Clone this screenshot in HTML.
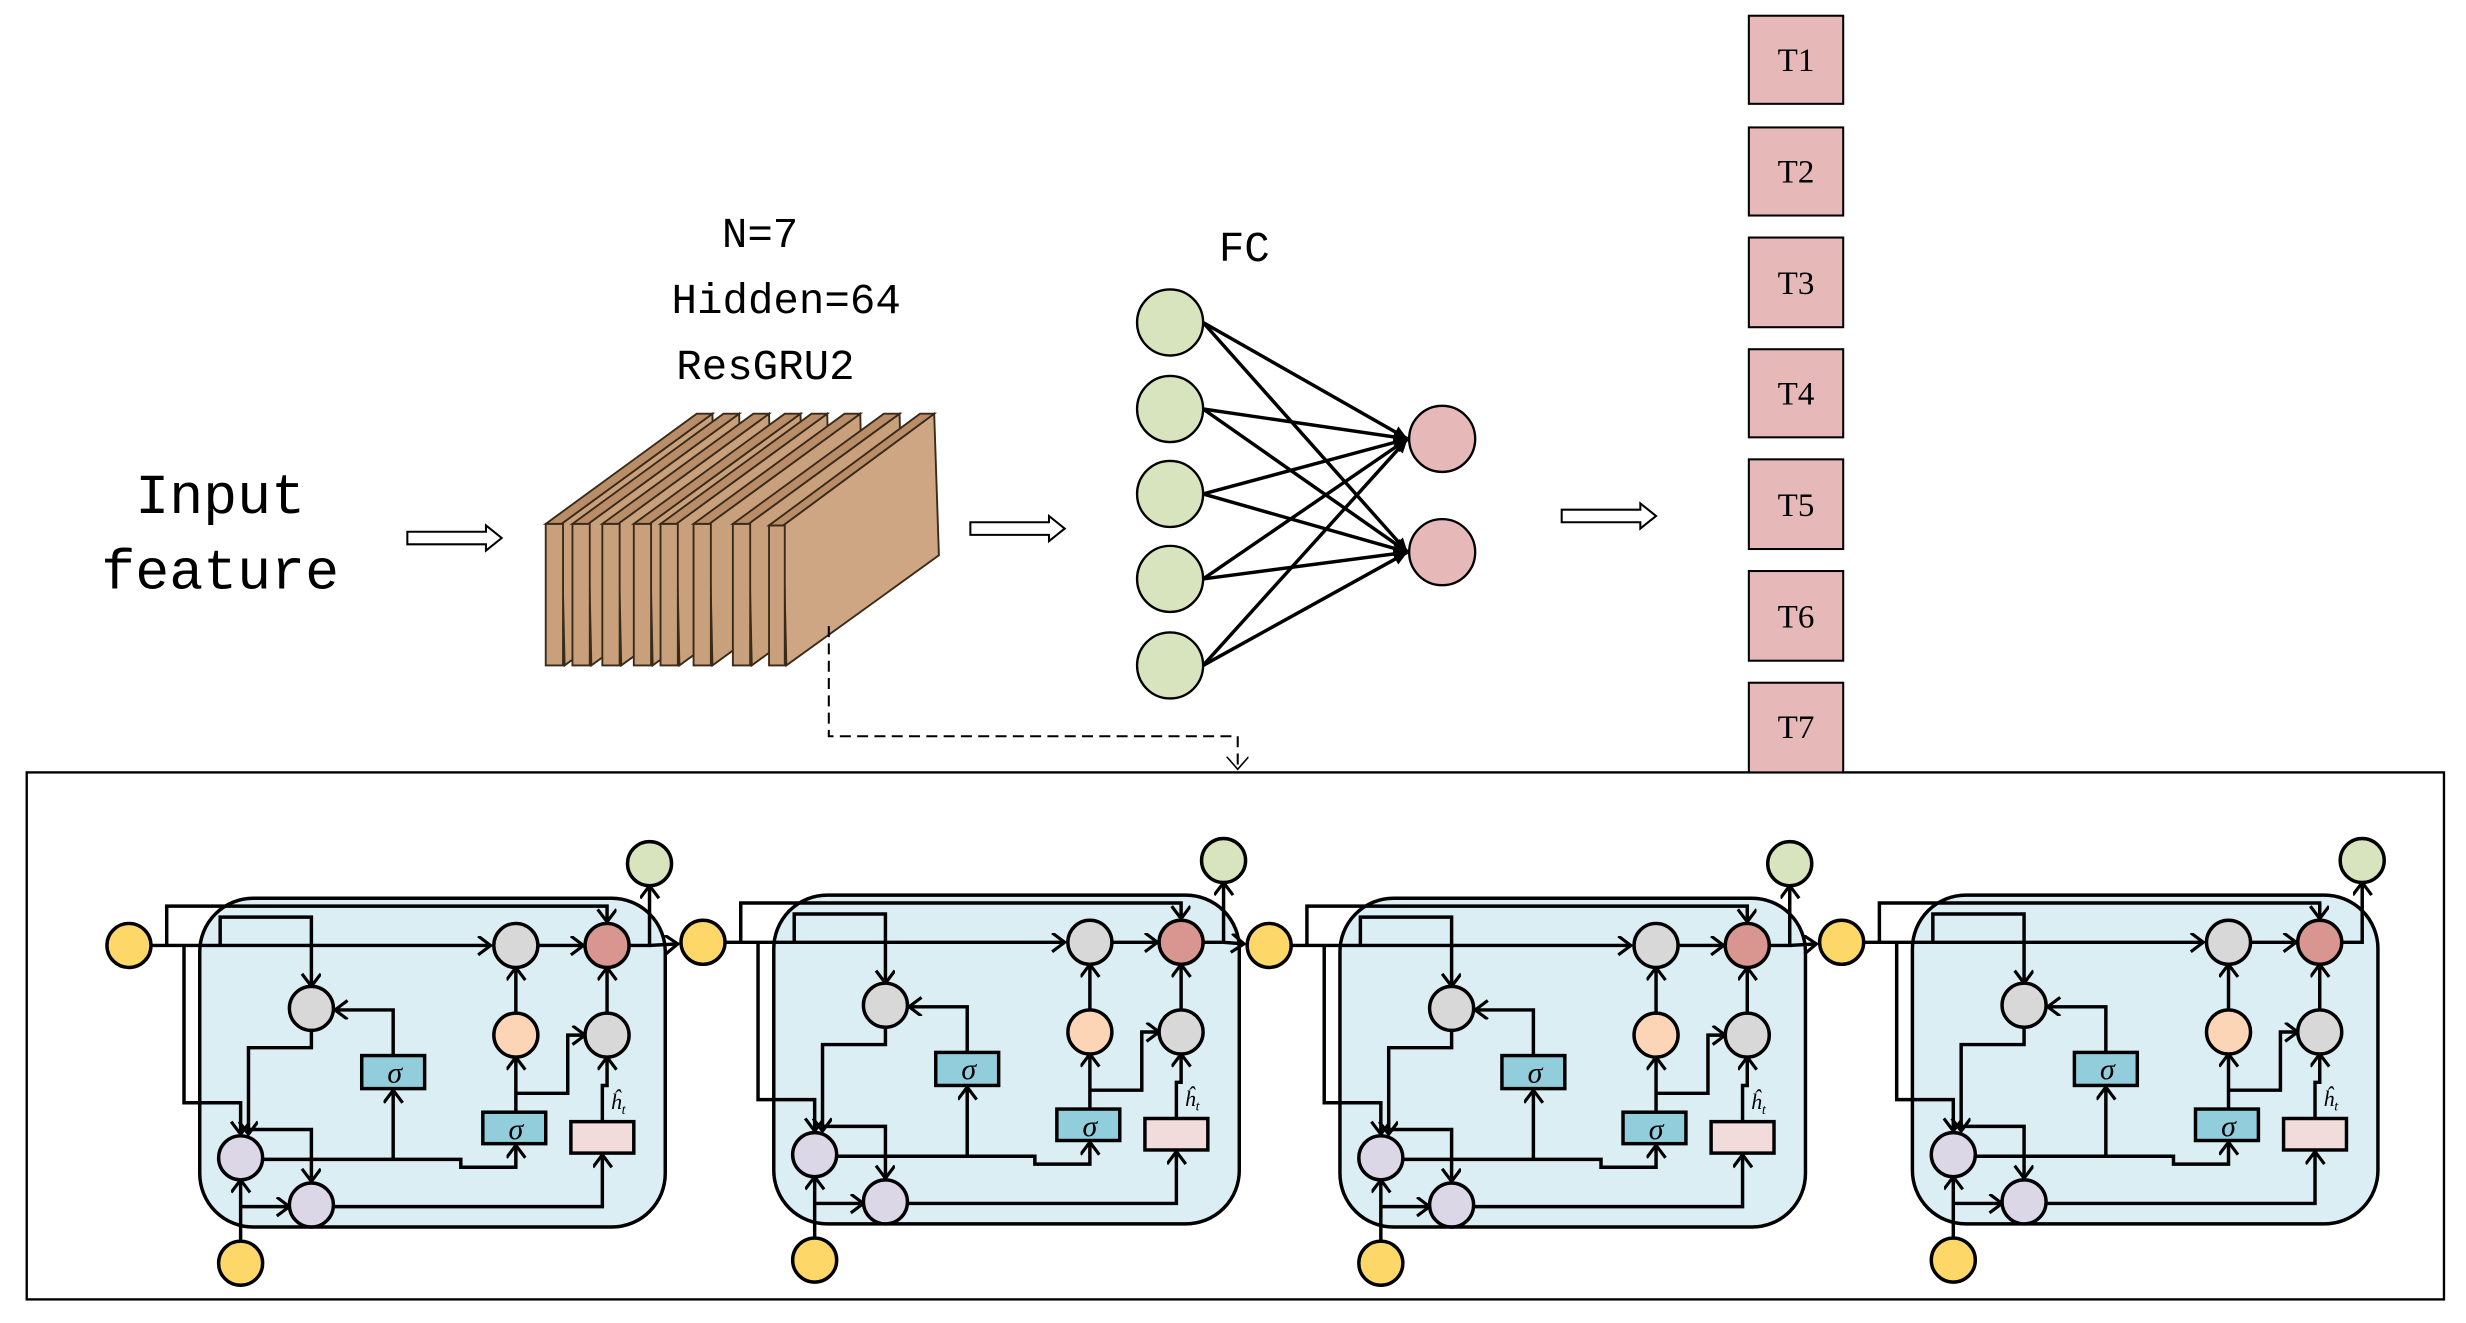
<!DOCTYPE html>
<html><head><meta charset="utf-8"><style>
html,body{margin:0;padding:0;background:#fff;}
svg{display:block;}
</style></head><body>
<svg width="2466" height="1323" viewBox="0 0 1568 841" preserveAspectRatio="none" xmlns="http://www.w3.org/2000/svg">
<defs>
<marker id="v" markerUnits="userSpaceOnUse" markerWidth="14" markerHeight="14" refX="9" refY="6" orient="auto">
<path d="M1,0 L9,6 L1,12" fill="none" stroke="#000" stroke-width="2"/>
</marker>
<marker id="f" markerUnits="userSpaceOnUse" markerWidth="12" markerHeight="12" refX="9" refY="4" orient="auto">
<path d="M0,0 L9,4 L0,8 z" fill="#000"/>
</marker>
<marker id="d" markerUnits="userSpaceOnUse" markerWidth="16" markerHeight="16" refX="8" refY="7" orient="auto">
<path d="M0,0 L8,7 L0,14" fill="none" stroke="#000" stroke-width="1"/>
</marker>
<g id="cell" stroke="#000" stroke-width="2.2" fill="none">
<rect x="127" y="571" width="296" height="209" rx="34" fill="#dbeef4"/>
<line x1="96" y1="601" x2="312" y2="601" marker-end="url(#v)"/>
<line x1="342" y1="601" x2="371" y2="601" marker-end="url(#v)"/>
<polyline points="106,601 106,576 386,576 386,586" marker-end="url(#v)"/>
<polyline points="140,601 140,583 198,583 198,627" marker-end="url(#v)"/>
<polyline points="117,601 117,701 153,701 153,721" marker-end="url(#v)"/>
<polyline points="198,656 198,666 158,666 158,721" marker-end="url(#v)"/>
<polyline points="158,718 198,718 198,751" marker-end="url(#v)"/>
<polyline points="250,671 250,642 213,642" marker-end="url(#v)"/>
<polyline points="167,737 293,737 293,742 328,742 328,728" marker-end="url(#v)"/>
<line x1="250" y1="737" x2="250" y2="693" marker-end="url(#v)"/>
<line x1="328" y1="707" x2="328" y2="672" marker-end="url(#v)"/>
<polyline points="328,695 361,695 361,658 372,658" marker-end="url(#v)"/>
<line x1="328" y1="644" x2="328" y2="615" marker-end="url(#v)"/>
<line x1="386" y1="644" x2="386" y2="615" marker-end="url(#v)"/>
<polyline points="383,713 383,690 386,690 386,672" marker-end="url(#v)"/>
<polyline points="212,767 383,767 383,734" marker-end="url(#v)"/>
<line x1="153" y1="789" x2="153" y2="750" marker-end="url(#v)"/>
<polyline points="153,767 160,767 184,767" marker-end="url(#v)"/>
<polyline points="400,601 413,601 413,563" marker-end="url(#v)"/>
<ellipse cx="82" cy="601" rx="14" ry="14" fill="#fdd868"/>
<ellipse cx="153" cy="803" rx="14" ry="14" fill="#fdd868"/>
<ellipse cx="413" cy="549" rx="14" ry="14" fill="#d7e4bd"/>
<ellipse cx="328" cy="601" rx="14" ry="14" fill="#d8d8d8"/>
<ellipse cx="386" cy="601" rx="14" ry="14" fill="#d9958f"/>
<ellipse cx="198" cy="641" rx="14" ry="14" fill="#d8d8d8"/>
<ellipse cx="328" cy="658" rx="14" ry="14" fill="#fbd5b5"/>
<ellipse cx="386" cy="658" rx="14" ry="14" fill="#d8d8d8"/>
<ellipse cx="153" cy="736" rx="14" ry="14" fill="#dcd7e6"/>
<ellipse cx="198" cy="766" rx="14" ry="14" fill="#dcd7e6"/>
<rect x="230" y="671" width="40" height="21" fill="#92cddc"/>
<rect x="307" y="707" width="40" height="20" fill="#92cddc"/>
<rect x="363" y="713" width="40" height="20" fill="#f2dcdb"/>
<text x="251" y="688" font-family="Liberation Serif, serif" font-style="italic" font-size="19" fill="#000" stroke="none" text-anchor="middle">σ</text>
<text x="328" y="724" font-family="Liberation Serif, serif" font-style="italic" font-size="19" fill="#000" stroke="none" text-anchor="middle">σ</text>
<text x="393" y="705" font-family="Liberation Serif, serif" font-style="italic" font-size="14" fill="#000" stroke="none" text-anchor="middle">ĥ<tspan font-size="9" dy="3">t</tspan></text>
</g>
</defs>

<rect x="17" y="491" width="1537" height="335" fill="none" stroke="#000" stroke-width="1.5"/>
<use href="#cell"/>
<use href="#cell" transform="translate(365,-2)"/>
<use href="#cell" transform="translate(725,0)"/>
<use href="#cell" transform="translate(1089,-2)"/>
<g stroke="#000" stroke-width="2.2" fill="none">
<line x1="413" y1="601" x2="431" y2="600" marker-end="url(#v)"/>
<line x1="778" y1="599" x2="791" y2="600" marker-end="url(#v)"/>
<line x1="1138" y1="601" x2="1155" y2="600" marker-end="url(#v)"/>
</g>

<g font-family="Liberation Mono, monospace" font-size="36" fill="#000" text-anchor="middle">
<text x="140" y="326">Input</text>
<text x="140" y="374">feature</text>
</g>
<g fill="#fff" stroke="#000" stroke-width="1.3">
<path d="M259,338 L309,338 L309,334 L319,342 L309,350 L309,346 L259,346 Z"/>
<path d="M617,332 L667,332 L667,328 L677,336 L667,344 L667,340 L617,340 Z"/>
<path d="M993,324 L1043,324 L1043,320 L1053,328 L1043,336 L1043,332 L993,332 Z"/>
</g>
<g font-family="Liberation Mono, monospace" font-size="27" fill="#000">
<text x="459" y="157">N=7</text>
<text x="427" y="199">Hidden=64</text>
<text x="430" y="241">ResGRU2</text>
<text x="775" y="166">FC</text>
</g>
<g stroke="#3a2a1a" stroke-width="1.2">
<g id="slab">
<polygon points="357,333 453,263 455,353 359,423" fill="#c9a07c"/>
<rect x="347" y="333" width="11" height="90" fill="#c9a07c"/>
<polygon points="347,333 443,263 453,263 357,333" fill="#b98d68"/>
</g>
<use href="#slab" transform="translate(17,0)"/>
<use href="#slab" transform="translate(36,0)"/>
<use href="#slab" transform="translate(56,0)"/>
<use href="#slab" transform="translate(73,0)"/>
<use href="#slab" transform="translate(94,0)"/>
<use href="#slab" transform="translate(119,0)"/>
<polygon points="498,334 594,263 597,353 500,423" fill="#cfa683"/>
<rect x="489" y="334" width="10" height="89" fill="#c9a07c"/>
<polygon points="489,334 585,263 594,263 498,334" fill="#b98d68"/>
</g>
<polyline points="527,398 527,468 787,468 787,489" fill="none" stroke="#000" stroke-width="1.3" stroke-dasharray="7,4" marker-end="url(#d)"/>

<g stroke="#000" stroke-width="2.2">
<line x1="765" y1="205" x2="895" y2="279" marker-end="url(#f)"/>
<line x1="765" y1="205" x2="895" y2="351" marker-end="url(#f)"/>
<line x1="765" y1="260" x2="895" y2="279" marker-end="url(#f)"/>
<line x1="765" y1="260" x2="895" y2="351" marker-end="url(#f)"/>
<line x1="765" y1="314" x2="895" y2="279" marker-end="url(#f)"/>
<line x1="765" y1="314" x2="895" y2="351" marker-end="url(#f)"/>
<line x1="765" y1="368" x2="895" y2="279" marker-end="url(#f)"/>
<line x1="765" y1="368" x2="895" y2="351" marker-end="url(#f)"/>
<line x1="765" y1="423" x2="895" y2="279" marker-end="url(#f)"/>
<line x1="765" y1="423" x2="895" y2="351" marker-end="url(#f)"/>
</g>
<g stroke="#000" stroke-width="1.5" fill="#d7e4bd">
<circle cx="744" cy="205" r="21"/>
<circle cx="744" cy="260" r="21"/>
<circle cx="744" cy="314" r="21"/>
<circle cx="744" cy="368" r="21"/>
<circle cx="744" cy="423" r="21"/>
<circle cx="917" cy="279" r="21" fill="#e6b8b7"/>
<circle cx="917" cy="351" r="21" fill="#e6b8b7"/>
</g>

<g stroke="#000" stroke-width="1.3" fill="#e6b8b7">
<rect x="1112" y="10" width="60" height="56"/>
<rect x="1112" y="81" width="60" height="56"/>
<rect x="1112" y="151" width="60" height="57"/>
<rect x="1112" y="222" width="60" height="56"/>
<rect x="1112" y="292" width="60" height="57"/>
<rect x="1112" y="363" width="60" height="57"/>
<rect x="1112" y="434" width="60" height="57"/>
</g>
<g font-family="Liberation Serif, serif" font-size="21" fill="#000" text-anchor="middle">
<text x="1142" y="45">T1</text>
<text x="1142" y="116">T2</text>
<text x="1142" y="187">T3</text>
<text x="1142" y="257">T4</text>
<text x="1142" y="328">T5</text>
<text x="1142" y="399">T6</text>
<text x="1142" y="469">T7</text>
</g>
</svg>
</body></html>
